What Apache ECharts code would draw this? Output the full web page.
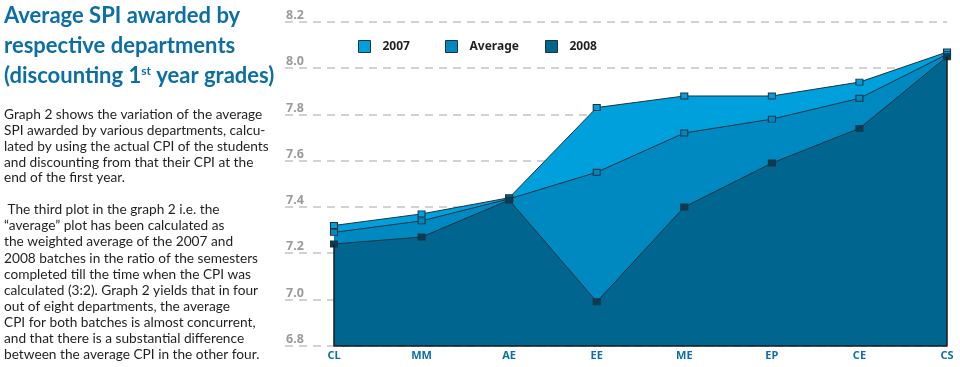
<!DOCTYPE html>
<html>
<head>
<meta charset="utf-8">
<script src="https://cdn.jsdelivr.net/npm/echarts@6/dist/echarts.min.js"></script>
<style>
html,body{margin:0;padding:0;background:#fff;}
#c{width:960px;height:367px;}
</style>
</head>
<body>
<div id="c"></div>
<script>
var categories = ['CL','MM','AE','EE','ME','EP','CE','CS'];
var s2007 = [7.32, 7.37, 7.44, 7.83, 7.88, 7.88, 7.94, 8.07];
var sAverage = [7.29, 7.34, 7.435, 7.55, 7.72, 7.78, 7.87, 8.06];
var s2008 = [7.24, 7.27, 7.43, 6.99, 7.40, 7.59, 7.74, 8.05];
var yTicks = {min: 6.8, max: 8.2, interval: 0.2};
var seriesNames = ['2007', 'Average', '2008'];

var titleLines = ['Average SPI awarded by', 'respective departments'];
var titleLine3 = '(discounting 1{sup|st} year grades)';
var para1 = [
  'Graph 2 shows the variation of the average',
  'SPI awarded by various departments, calcu-',
  'lated by using the actual CPI of the students',
  'and discounting from that their CPI at the',
  'end of the first year.'
];
var para2 = [
  ' The third plot in the graph 2 i.e. the',
  '\u201Caverage\u201D plot has been calculated as',
  'the weighted average of the 2007 and',
  '2008 batches in the ratio of the semesters',
  'completed till the time when the CPI was',
  'calculated (3:2). Graph 2 yields that in four',
  'out of eight departments, the average',
  'CPI for both batches is almost concurrent,',
  'and that there is a substantial difference',
  'between the average CPI in the other four.'
];

var colors = ['#00a0dc', '#0089c0', '#00668f'];
var markerFill = ['#00a0dc', '#0089c0', '#0b3c57'];
var lineDark = '#1e3340';
var titleColor = '#0b6fa5';
var bodyFont = 'Lato';
var titleFont = 'bold 22px Lato';
var bodySize = '13.7px ';

var graphics = [];
var tY = [17, 47, 77];
titleLines.forEach(function(t, i){
  graphics.push({type:'text', left:4, top:tY[i]-12, style:{text:t, fill:titleColor, font:titleFont}});
});
graphics.push({type:'text', left:4, top:tY[2]-12, style:{text:titleLine3, fill:titleColor, font:titleFont,
  rich:{sup:{fontSize:12, fontWeight:'bold', fontFamily:'Lato', fill:titleColor, verticalAlign:'top', padding:[0,0,10,0]}}}});
var p1y = [115, 130.7, 146.5, 162.3, 177.7];
para1.forEach(function(t,i){
  graphics.push({type:'text', left:4, top:p1y[i]-7, style:{text:t, fill:'#231f20', font:bodySize + bodyFont}});
});
para2.forEach(function(t,i){
  graphics.push({type:'text', left:4, top:210 + i*16.03 - 7, style:{text:t, fill:'#231f20', font:bodySize + bodyFont}});
});

function mkSeries(idx, data){
  var s = {
    name: seriesNames[idx], type:'line', data:data, xAxisIndex:1, yAxisIndex:1,
    symbol:'rect', symbolSize:[7,6], showSymbol:true,
    lineStyle:{color:lineDark, width:1},
    itemStyle:{color:markerFill[idx], borderColor:lineDark, borderWidth:1},
    areaStyle:{color:colors[idx], opacity:1, origin:'start'},
    z: 2+idx, silent:true, animation:false
  };
  return s;
}
var ser = [mkSeries(0,s2007), mkSeries(1,sAverage), mkSeries(2,s2008)];
var last = categories.length-1;
ser[2].markLine = {symbol:['none','none'], silent:true, label:{show:false},
  lineStyle:{color:'#1a1a1a', width:1.5, type:'solid'},
  data:[
    [{coord:[categories[0], yTicks.min]}, {coord:[categories[0], s2008[0]]}],
    [{coord:[categories[last], yTicks.min]}, {coord:[categories[last], s2008[last]]}]
  ]};

function mkLegend(i, left){
  return {data:[seriesNames[i]], left:left, top:35, itemWidth:12, itemHeight:12, icon:'rect', selectedMode:false,
    itemStyle:{color:colors[i], borderColor:lineDark, borderWidth:1},
    textStyle:{fontFamily:'Noto Sans', fontWeight:'bold', fontSize:12, color:'#231f20', padding:[0,0,0,7]}};
}

var option = {
  animation:false,
  legend:[mkLegend(0,353), mkLegend(1,440), mkLegend(2,540)],
  grid:[
    {left:285, right:13, top:22, bottom:21.3},
    {left:334, right:13, top:22, bottom:21.3}
  ],
  xAxis:[
    {gridIndex:0, type:'category', data:categories, show:false},
    {gridIndex:1, type:'category', data:categories, boundaryGap:false,
      axisLine:{show:true, lineStyle:{color:'#1a1a1a', width:1.5}},
      axisTick:{show:false},
      axisLabel:{margin:5, color:'#0b6fa5', fontFamily:'Noto Sans', fontWeight:'bold', fontSize:11},
      splitLine:{show:false}, z:10}
  ],
  yAxis:[
    {gridIndex:0, type:'value', min:yTicks.min, max:yTicks.max, interval:yTicks.interval,
      axisLine:{show:false}, axisTick:{show:false},
      axisLabel:{inside:true, margin:1, align:'left', verticalAlign:'bottom', color:'#9a9a9a', fontFamily:'Noto Sans', fontWeight:'bold', fontSize:12.5,
        formatter:function(v){return v.toFixed(1);}},
      splitLine:{show:true, lineStyle:{color:'#c4c4c4', type:[8,6], width:1.5}}},
    {gridIndex:1, type:'value', min:yTicks.min, max:yTicks.max, interval:yTicks.interval, show:false}
  ],
  graphic:graphics,
  series:ser
};
var chart = echarts.init(document.getElementById('c'), null, {renderer:'canvas'});
chart.setOption(option);
</script>
</body>
</html>
